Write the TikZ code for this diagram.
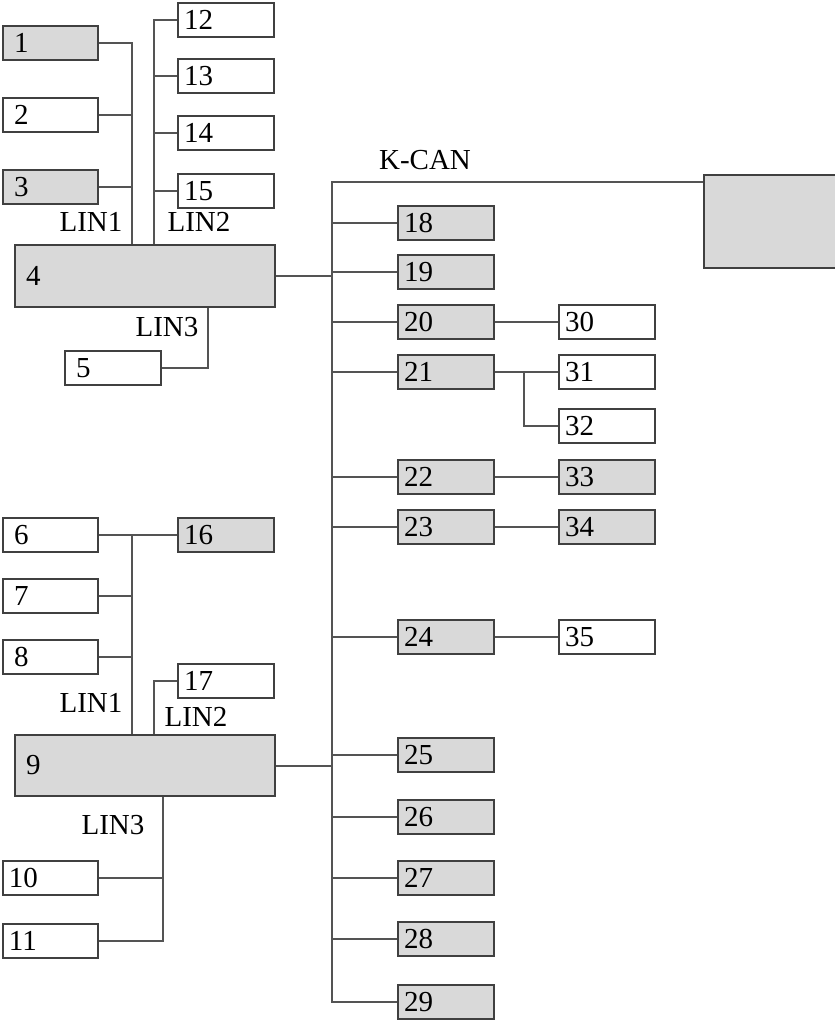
\documentclass[tikz,border=0pt]{standalone}
\usepackage{fontspec}
\setmainfont{Liberation Serif}
\usetikzlibrary{calc}

\definecolor{boxfill}{gray}{0.85}
\definecolor{wire}{gray}{0.33}
\definecolor{edge}{gray}{0.25}

\begin{document}
\begin{tikzpicture}[x=0.5pt, y=-0.5pt,
  ecu/.style={draw=edge, line width=1pt, anchor=north west, minimum height=17pt,
    inner xsep=3pt, inner ysep=0pt, text width=#1, align=left,
    font=\fontsize{14.5}{15}\selectfont},
  ecu/.default=42pt,
  gray box/.style={fill=boxfill},
  bus/.style={draw=wire, line width=1pt},
  lbl/.style={font=\fontsize{14.5}{15}\selectfont}]

\useasboundingbox (0,0) rectangle (834,1020);

% upper gateway and its LIN nodes
\node[ecu=124pt, gray box, minimum height=31pt] (n4) at (14,244) {\hspace*{2.5pt}4};
\node[ecu=41.5pt, gray box] (n1) at (2,25) {\hspace*{2.5pt}1};
\node[ecu=41.5pt] (n2) at (2,97) {\hspace*{2.5pt}2};
\node[ecu=41.5pt, gray box] (n3) at (2,169) {\hspace*{2.5pt}3};
\node[ecu] (n12) at (177,2) {12};
\node[ecu] (n13) at (177,58) {13};
\node[ecu] (n14) at (177,115) {14};
\node[ecu] (n15) at (177,173) {15};
\node[ecu] (n5) at (64,350) {\hspace*{2.5pt}5};

\coordinate (lin1) at (132,0);
\coordinate (lin2) at (154,0);
\coordinate (lin3) at (208,0);

\draw[bus] (n1.east) -| (n4.north -| lin1);
\draw[bus] (n2.east) -- (n2.east -| lin1);
\draw[bus] (n3.east) -- (n3.east -| lin1);
\draw[bus] (n12.west) -| (n4.north -| lin2);
\foreach \n in {13,14,15}
  \draw[bus] (n\n.west) -- (n\n.west -| lin2);
\draw[bus] (n4.south -| lin3) |- (n5.east);

\node[lbl] (l1a) at (91,222) {LIN1};
\node[lbl] (l2a) at (199,222) {LIN2};
\node[lbl] (l3a) at (167,327) {LIN3};

% lower gateway and its LIN nodes
\node[ecu=124pt, gray box, minimum height=30.5pt] (n9) at (14,734) {\hspace*{2.5pt}9};
\node[ecu=41.5pt] (n6) at (2,517) {\hspace*{2.5pt}6};
\node[ecu=41.5pt] (n7) at (2,578) {\hspace*{2.5pt}7};
\node[ecu=41.5pt] (n8) at (2,639) {\hspace*{2.5pt}8};
\node[ecu=41.5pt] (n10) at (2,860) {10};
\node[ecu=41.5pt] (n11) at (2,923) {11};
\node[ecu, gray box] (n16) at (177,517) {16};
\node[ecu] (n17) at (177,663) {17};

\coordinate (lin3b) at (163,0);

\draw[bus] (n6.east) -- (n16.west);
\draw[bus] (n6.east -| lin1) -- (n9.north -| lin1);
\draw[bus] (n7.east) -- (n7.east -| lin1);
\draw[bus] (n8.east) -- (n8.east -| lin1);
\draw[bus] (n17.west) -| (n9.north -| lin2);
\draw[bus] (n9.south -| lin3b) |- (n11.east);
\draw[bus] (n10.east) -- (n10.east -| lin3b);

\node[lbl] (l1b) at (91,703) {LIN1};
\node[lbl] (l2b) at (196,717) {LIN2};
\node[lbl] (l3b) at (113,825) {LIN3};

% K-CAN
\node[draw=edge, fill=boxfill, line width=1pt, anchor=north west,
  minimum width=90pt, minimum height=46.5pt] (gw) at (703,174) {};
\node[lbl] (kcan) at (425,160) {K-CAN};
\coordinate (ktop) at (332,182);

\foreach \n/\y in {18/205,19/254,20/304,21/354,22/459,23/509,24/619,
                   25/737,26/799,27/860,28/921,29/984}
  \node[ecu, gray box] (n\n) at (397,\y) {\n};

\node[ecu] (n30) at (558,304) {30};
\node[ecu] (n31) at (558,354) {31};
\node[ecu] (n32) at (558,408) {32};
\node[ecu, gray box] (n33) at (558,459) {33};
\node[ecu, gray box] (n34) at (558,509) {34};
\node[ecu] (n35) at (558,619) {35};

\draw[bus] (gw.west |- ktop) -| (n29.west -| ktop) -- (n29.west);
\foreach \n in {18,...,28}
  \draw[bus] (n\n.west -| ktop) -- (n\n.west);
\draw[bus] (n4.east) -- (n4.east -| ktop);
\draw[bus] (n9.east) -- (n9.east -| ktop);

\coordinate (split) at (524,0);
\draw[bus] (n20.east) -- (n30.west);
\draw[bus] (n21.east) -- (n31.west);
\draw[bus] (n21.east -| split) |- (n32.west);
\draw[bus] (n22.east) -- (n33.west);
\draw[bus] (n23.east) -- (n34.west);
\draw[bus] (n24.east) -- (n35.west);

\end{tikzpicture}
\end{document}
